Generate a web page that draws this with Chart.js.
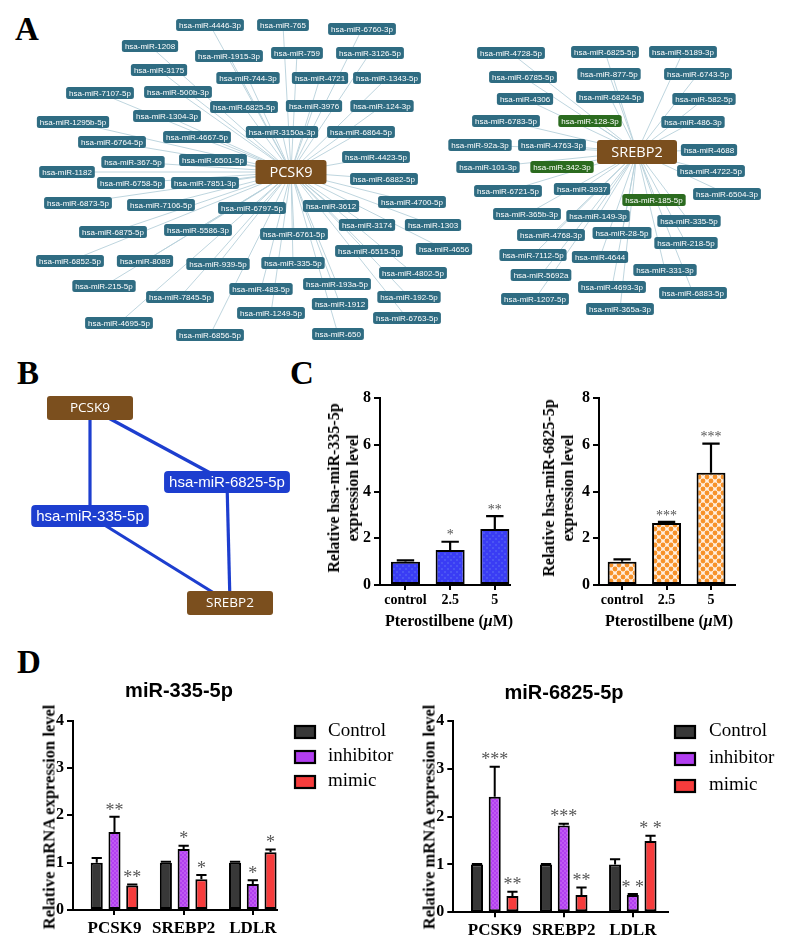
<!DOCTYPE html>
<html><head><meta charset="utf-8">
<script src="https://cdn.jsdelivr.net/npm/chart.js@4.4.0/dist/chart.umd.min.js"></script>
<style>
html,body{margin:0;padding:0;background:#fff;}
body{width:787px;height:949px;position:relative;overflow:hidden;}
canvas{position:absolute;}
.letter{position:absolute;font:bold 33px/33px "Liberation Serif";color:#000;}
.ctr{position:absolute;transform:translate(-50%,-50%);white-space:nowrap;color:#000;}
.rot{position:absolute;transform:translate(-50%,-50%) rotate(-90deg);white-space:nowrap;text-align:center;color:#000;font:bold 16px/19px "Liberation Serif";}
.xt{font:bold 16px/18px "Liberation Serif";}
.dt{font:bold 20px/22px "Liberation Sans";}
</style></head><body>

<div class="letter" style="left:15px;top:13px">A</div>
<div class="letter" style="left:17px;top:357px">B</div>
<div class="letter" style="left:290px;top:357px">C</div>
<div class="letter" style="left:17px;top:646px">D</div>

<canvas id="cA" width="787" height="345" style="left:0;top:0"></canvas>
<canvas id="cB" width="300" height="280" style="left:0;top:355px"></canvas>
<canvas id="cC1" width="220" height="240" style="left:300px;top:385px"></canvas>
<canvas id="cC2" width="226" height="240" style="left:519px;top:385px"></canvas>
<canvas id="cD1" width="410" height="249" style="left:0;top:700px"></canvas>
<canvas id="cD2" width="397" height="249" style="left:390px;top:700px"></canvas>

<div class="rot" style="left:343px;top:488px">Relative hsa-miR-335-5p<br>expression level</div>
<div class="rot" style="left:558px;top:488px">Relative hsa-miR-6825-5p<br>expression level</div>
<div class="ctr xt" style="left:449px;top:621px">Pterostilbene (<i>μ</i>M)</div>
<div class="ctr xt" style="left:669px;top:621px">Pterostilbene (<i>μ</i>M)</div>

<div class="ctr dt" style="left:179px;top:690px">miR-335-5p</div>
<div class="ctr dt" style="left:564px;top:692px">miR-6825-5p</div>
<div class="rot" style="left:49px;top:817px;font-size:16.5px">Relative mRNA expression level</div>
<div class="rot" style="left:429px;top:817px;font-size:16.5px">Relative mRNA expression level</div>

<script>
// ================= DATA =================
// Panel A: PCSK9 network
const leftHub = 'PCSK9';
const leftHubPos = [291, 172];
const leftNames = ['hsa-miR-4446-3p','hsa-miR-765','hsa-miR-6760-3p','hsa-miR-1208','hsa-miR-1915-3p','hsa-miR-759','hsa-miR-3126-5p','hsa-miR-3175','hsa-miR-744-3p','hsa-miR-4721','hsa-miR-1343-5p','hsa-miR-7107-5p','hsa-miR-500b-3p','hsa-miR-6825-5p','hsa-miR-3976','hsa-miR-124-3p','hsa-miR-1304-3p','hsa-miR-1295b-5p','hsa-miR-3150a-3p','hsa-miR-6864-5p','hsa-miR-4667-5p','hsa-miR-6764-5p','hsa-miR-4423-5p','hsa-miR-367-5p','hsa-miR-6501-5p','hsa-miR-1182','hsa-miR-6882-5p','hsa-miR-6758-5p','hsa-miR-7851-3p','hsa-miR-6873-5p','hsa-miR-7106-5p','hsa-miR-6797-5p','hsa-miR-4700-5p','hsa-miR-3612','hsa-miR-3174','hsa-miR-1303','hsa-miR-6875-5p','hsa-miR-5586-3p','hsa-miR-6761-5p','hsa-miR-6515-5p','hsa-miR-4656','hsa-miR-6852-5p','hsa-miR-8089','hsa-miR-939-5p','hsa-miR-335-5p','hsa-miR-4802-5p','hsa-miR-215-5p','hsa-miR-483-5p','hsa-miR-193a-5p','hsa-miR-7845-5p','hsa-miR-192-5p','hsa-miR-1912','hsa-miR-1249-5p','hsa-miR-6763-5p','hsa-miR-4695-5p','hsa-miR-6856-5p','hsa-miR-650'];
const leftX = [210,283,362,150,229,297,370,159,248,320,387,100,178,244,314,382,167,73,282,361,197,112,376,133,213,67,384,131,205,78,161,252,412,331,367,433,113,198,294,369,444,70,145,218,293,413,104,261,337,180,409,340,271,407,119,210,338];
const leftY = [25,25,29,46,56,53,53,70,78,78,78,93,92,107,106,106,116,122,132,132,137,142,157,162,160,172,179,183,183,203,205,208,202,206,225,225,232,230,234,251,249,261,261,264,263,273,286,289,284,297,297,304,313,318,323,335,334];

// Panel A: SREBP2 network
const rightHub = 'SREBP2';
const rightHubPos = [637, 152];
const rightNames = ['hsa-miR-4728-5p','hsa-miR-6825-5p','hsa-miR-5189-3p','hsa-miR-6785-5p','hsa-miR-877-5p','hsa-miR-6743-5p','hsa-miR-4306','hsa-miR-6824-5p','hsa-miR-582-5p','hsa-miR-6783-5p','hsa-miR-128-3p','hsa-miR-486-3p','hsa-miR-92a-3p','hsa-miR-4763-3p','hsa-miR-4688','hsa-miR-101-3p','hsa-miR-342-3p','hsa-miR-4722-5p','hsa-miR-6721-5p','hsa-miR-3937','hsa-miR-6504-3p','hsa-miR-185-5p','hsa-miR-365b-3p','hsa-miR-149-3p','hsa-miR-335-5p','hsa-miR-4768-3p','hsa-miR-28-5p','hsa-miR-218-5p','hsa-miR-7112-5p','hsa-miR-4644','hsa-miR-5692a','hsa-miR-331-3p','hsa-miR-4693-3p','hsa-miR-6883-5p','hsa-miR-1207-5p','hsa-miR-365a-3p'];
const rightX = [511,605,683,523,609,698,525,610,704,506,590,693,480,552,709,488,562,711,508,582,727,654,527,598,689,551,622,686,533,600,541,665,612,693,535,620];
const rightY = [53,52,52,77,74,74,99,97,99,121,121,122,145,145,150,167,167,171,191,189,194,200,214,216,221,235,233,243,255,257,275,270,287,293,299,309];
const greenNames = ['hsa-miR-128-3p','hsa-miR-342-3p','hsa-miR-185-5p'];

// Panel B: shared network
const bNames = ['PCSK9','SREBP2','hsa-miR-6825-5p','hsa-miR-335-5p'];
const bTypes = ['gene','gene','mir','mir'];
const bX = [90,230,227,90];
const bY = [408,603,482,516];
const bEdges = [['PCSK9','hsa-miR-335-5p'],['PCSK9','hsa-miR-6825-5p'],['hsa-miR-335-5p','SREBP2'],['hsa-miR-6825-5p','SREBP2']];

// Panel C
const doseLabels = ['control','2.5','5'];
const mir335Mean = [1.0, 1.5, 2.4];
const mir335Err  = [0.05, 0.35, 0.55];
const mir335Sig  = ['', '*', '**'];
const mir6825Mean = [1.0, 2.65, 4.8];
const mir6825Err  = [0.1, 0.05, 1.25];
const mir6825Sig  = ['', '***', '***'];
const cTicks = [0,2,4,6,8];

// Panel D
const genes = ['PCSK9','SREBP2','LDLR'];
const groupNames = ['Control','inhibitor','mimic'];
const d335Mean = {Control:[1.0,1.0,1.0], inhibitor:[1.65,1.29,0.55], mimic:[0.52,0.65,1.22]};
const d335Err  = {Control:[0.1,0.02,0.02], inhibitor:[0.32,0.07,0.08], mimic:[0.02,0.09,0.06]};
const d335Sig  = {Control:['','',''], inhibitor:['**','*','*'], mimic:['**','*','*']};
const d6825Mean = {Control:[1.0,1.0,1.0], inhibitor:[2.41,1.81,0.36], mimic:[0.34,0.36,1.49]};
const d6825Err  = {Control:[0.01,0.01,0.11], inhibitor:[0.63,0.04,0.02], mimic:[0.09,0.16,0.11]};
const d6825Sig  = {Control:['','',''], inhibitor:['***','***','* *'], mimic:['**','**','* *']};
const dTicks = [0,1,2,3,4];

// ================= STYLE HELPERS =================
const SERIF = '"Liberation Serif", "Times New Roman", serif';
const SANS = '"Liberation Sans", Arial, sans-serif';
const TEAL = '#2f6c82', GREEN = '#2b6b1f', BROWN = '#7b4f1e', EDGE = '#b7d0da';
const BBLUE = '#1d3ecf';
const groupColors = {Control:'#383838', inhibitor:'#b23ef0', mimic:'#f63c3c'};

function rr(ctx, x, y, w, h, r) {
  ctx.beginPath();
  ctx.moveTo(x + r, y); ctx.lineTo(x + w - r, y); ctx.quadraticCurveTo(x + w, y, x + w, y + r);
  ctx.lineTo(x + w, y + h - r); ctx.quadraticCurveTo(x + w, y + h, x + w - r, y + h);
  ctx.lineTo(x + r, y + h); ctx.quadraticCurveTo(x, y + h, x, y + h - r);
  ctx.lineTo(x, y + r); ctx.quadraticCurveTo(x, y, x + r, y); ctx.closePath();
}
function drawBox(ctx, cx, cy, text, o) {
  ctx.font = o.font;
  const tw = ctx.measureText(text).width;
  const w = o.w || (tw + 2 * o.pad);
  const h = o.h;
  rr(ctx, cx - w / 2, cy - h / 2, w, h, o.r);
  ctx.fillStyle = o.fill; ctx.fill();
  ctx.fillStyle = '#fff'; ctx.textAlign = 'center'; ctx.textBaseline = 'middle';
  ctx.fillText(text, cx, cy + (o.dy || 0));
}

function makePattern(kind) {
  const c = document.createElement('canvas');
  const g = c.getContext('2d');
  if (kind === 'blue') {
    c.width = 6; c.height = 6;
    g.fillStyle = '#3a3df4'; g.fillRect(0, 0, 6, 6);
    g.fillStyle = '#4b55f3';
    g.fillRect(0, 0, 2, 2); g.fillRect(3, 3, 2, 2);
  } else if (kind === 'orange') {
    c.width = 8; c.height = 8;
    g.fillStyle = '#fff0e2'; g.fillRect(0, 0, 8, 8);
    g.fillStyle = '#f7922a';
    [[0,0],[8,0],[0,8],[8,8],[4,4]].forEach(p => { g.beginPath(); g.arc(p[0], p[1], 2.4, 0, Math.PI * 2); g.fill(); });
  } else if (kind === 'purple') {
    c.width = 4; c.height = 4;
    g.fillStyle = '#b23ef0'; g.fillRect(0, 0, 4, 4);
    g.fillStyle = '#c05af2'; g.fillRect(0, 0, 2, 2); g.fillRect(2, 2, 2, 2);
  }
  return g.createPattern(c, 'repeat');
}

// ================= PLUGINS =================
const netPlugin = {
  id: 'net',
  beforeDatasetsDraw(chart) {
    const ctx = chart.ctx;
    ctx.save();
    ctx.strokeStyle = EDGE; ctx.lineWidth = 0.9;
    chart.data.datasets.forEach((ds, di) => {
      if (ds.hub === undefined) return;
      const hubEl = chart.getDatasetMeta(ds.hub).data[0];
      chart.getDatasetMeta(di).data.forEach(el => {
        ctx.beginPath(); ctx.moveTo(hubEl.x, hubEl.y); ctx.lineTo(el.x, el.y); ctx.stroke();
      });
    });
    ctx.restore();
  },
  afterDatasetsDraw(chart) {
    const ctx = chart.ctx;
    ctx.save();
    chart.data.datasets.forEach((ds, di) => {
      chart.getDatasetMeta(di).data.forEach((el, i) => {
        const name = ds.names[i];
        if (ds.role === 'hub') {
          drawBox(ctx, el.x, el.y, name, {font: '14.5px "Open Sans"', w: ds.boxW, h: 24, r: 3, fill: BROWN, dy: 0.5});
        } else {
          const fill = greenNames.includes(name) ? GREEN : TEAL;
          drawBox(ctx, el.x, el.y, name, {font: '8px ' + SANS, pad: 3, h: 12, r: 2.5, fill, dy: 0.5});
        }
      });
    });
    ctx.restore();
  }
};

const bPlugin = {
  id: 'bnet',
  beforeDatasetsDraw(chart) {
    const ctx = chart.ctx;
    const el = chart.getDatasetMeta(0).data;
    const names = chart.data.datasets[0].names;
    ctx.save(); ctx.strokeStyle = BBLUE; ctx.lineWidth = 3.2;
    bEdges.forEach(([a, b]) => {
      const p = el[names.indexOf(a)], q = el[names.indexOf(b)];
      ctx.beginPath(); ctx.moveTo(p.x, p.y); ctx.lineTo(q.x, q.y); ctx.stroke();
    });
    ctx.restore();
  },
  afterDatasetsDraw(chart) {
    const ctx = chart.ctx;
    const ds = chart.data.datasets[0];
    ctx.save();
    chart.getDatasetMeta(0).data.forEach((el, i) => {
      if (ds.types[i] === 'gene') drawBox(ctx, el.x, el.y, ds.names[i], {font: '13.5px "Open Sans"', w: 86, h: 24, r: 3, fill: BROWN, dy: 0.5});
      else drawBox(ctx, el.x, el.y, ds.names[i], {font: '15px ' + SANS, pad: 5, h: 22, r: 4, fill: BBLUE, dy: 0.5});
    });
    ctx.restore();
  }
};

const errPlugin = {
  id: 'errs',
  afterDatasetsDraw(chart, args, o) {
    const ctx = chart.ctx, ys = chart.scales.y;
    chart.data.datasets.forEach((ds, di) => {
      const meta = chart.getDatasetMeta(di);
      meta.data.forEach((el, i) => {
        const v = ds.data[i].y;
        const top = ys.getPixelForValue(v + ds.errs[i]);
        ctx.save();
        ctx.strokeStyle = '#000'; ctx.lineWidth = o.lw;
        const cw = el.width * o.cap / 2;
        ctx.beginPath();
        ctx.moveTo(el.x, el.y); ctx.lineTo(el.x, top);
        ctx.moveTo(el.x - cw, top); ctx.lineTo(el.x + cw, top);
        ctx.stroke();
        const s = ds.stars[i];
        if (s) {
          ctx.fillStyle = o.starColor; ctx.font = o.starFont;
          ctx.textAlign = 'center'; ctx.textBaseline = 'middle';
          ctx.fillText(s, el.x, top - o.starGap);
        }
        ctx.restore();
      });
    });
  }
};

const sideLegend = {
  id: 'sideLegend',
  afterDraw(chart, args, o) {
    const ctx = chart.ctx;
    ctx.save();
    chart.data.datasets.forEach((ds, i) => {
      const cy = o.y + i * o.gap;
      ctx.fillStyle = ds.legendColor;
      ctx.fillRect(o.x, cy - o.h / 2, o.w, o.h);
      ctx.strokeStyle = '#000'; ctx.lineWidth = 2.2;
      ctx.strokeRect(o.x, cy - o.h / 2, o.w, o.h);
      ctx.fillStyle = '#000'; ctx.font = o.font;
      ctx.textAlign = 'left'; ctx.textBaseline = 'middle';
      ctx.fillText(ds.label, o.tx, cy - 1);
    });
    ctx.restore();
  }
};

// ================= AXES =================
function yAxis(max, step, size, width) {
  return {
    type: 'linear', min: 0, max, bounds: 'data',
    afterBuildTicks(s) { s.ticks = (max === 8 ? cTicks : dTicks).map(v => ({value: v})); },
    ticks: {color: '#000', font: {family: SERIF, weight: 'bold', size}, padding: 3},
    grid: {display: true, drawOnChartArea: false, drawTicks: true, tickLength: 6, color: '#000', lineWidth: 2},
    border: {display: true, color: '#000', width: 2},
    afterFit(s) { s.width = width; }
  };
}
function xAxis(min, max, labels, size, height, pad) {
  return {
    type: 'linear', min, max, offset: false, bounds: 'data',
    afterBuildTicks(s) { s.ticks = labels.map((_, i) => ({value: i})); },
    ticks: {callback: v => labels[v], autoSkip: false, maxRotation: 0, color: '#000', font: {family: SERIF, weight: 'bold', size}, padding: pad},
    grid: {display: true, drawOnChartArea: false, drawTicks: true, tickLength: 5, color: '#000', lineWidth: 2, offset: false},
    border: {display: true, color: '#000', width: 2},
    afterFit(s) { s.height = height; }
  };
}
const baseOpts = {responsive: false, animation: false, events: [], devicePixelRatio: 1};

// ================= PANEL A =================
new Chart(document.getElementById('cA'), {
  type: 'scatter',
  data: {datasets: [
    {label: leftHub, role: 'hub', boxW: 71, names: [leftHub], data: [{x: leftHubPos[0], y: leftHubPos[1]}]},
    {label: 'PCSK9 miRNAs', hub: 0, names: leftNames, data: leftNames.map((n, i) => ({x: leftX[i], y: leftY[i]}))},
    {label: rightHub, role: 'hub', boxW: 80, names: [rightHub], data: [{x: rightHubPos[0], y: rightHubPos[1]}]},
    {label: 'SREBP2 miRNAs', hub: 2, names: rightNames, data: rightNames.map((n, i) => ({x: rightX[i], y: rightY[i]}))}
  ]},
  options: Object.assign({}, baseOpts, {
    layout: {padding: 0},
    elements: {point: {radius: 0, hoverRadius: 0}},
    scales: {x: {type: 'linear', display: false, min: 0, max: 787}, y: {type: 'linear', display: false, min: 0, max: 345, reverse: true}},
    plugins: {legend: {display: false}, tooltip: {enabled: false}}
  }),
  plugins: [netPlugin]
});

// ================= PANEL B =================
new Chart(document.getElementById('cB'), {
  type: 'scatter',
  data: {datasets: [{label: 'shared', names: bNames, types: bTypes, data: bNames.map((n, i) => ({x: bX[i], y: bY[i]}))}]},
  options: Object.assign({}, baseOpts, {
    layout: {padding: 0},
    elements: {point: {radius: 0, hoverRadius: 0}},
    scales: {x: {type: 'linear', display: false, min: 0, max: 300}, y: {type: 'linear', display: false, min: 355, max: 635, reverse: true}},
    plugins: {legend: {display: false}, tooltip: {enabled: false}}
  }),
  plugins: [bPlugin]
});

// ================= PANEL C =================
function cChart(id, mean, err, sig, fill, xmin, xmax) {
  new Chart(document.getElementById(id), {
    type: 'bar',
    data: {datasets: [{
      label: 'expression', data: mean.map((v, i) => ({x: i, y: v})), errs: err, stars: sig,
      backgroundColor: fill, borderColor: '#000', borderWidth: 2, borderSkipped: false,
      barPercentage: 0.65, categoryPercentage: 1
    }]},
    options: Object.assign({}, baseOpts, {
      layout: {padding: {top: 13, right: 10, left: 0, bottom: 0}},
      scales: {x: xAxis(xmin, xmax, doseLabels, 14, 40, 2), y: yAxis(8, 2, 16, 80)},
      plugins: {legend: {display: false}, tooltip: {enabled: false},
        errs: {lw: 2.2, cap: 0.6, starFont: '14px ' + SERIF, starColor: '#555', starGap: 6}}
    }),
    plugins: [errPlugin]
  });
}
cChart('cC1', mir335Mean, mir335Err, mir335Sig, makePattern('blue'), -0.57, 2.34);
cChart('cC2', mir6825Mean, mir6825Err, mir6825Sig, makePattern('orange'), -0.52, 2.54);

// ================= PANEL D =================
function dChart(id, mean, err, sig, pad, yW, xH, xmin, xmax, leg) {
  const fills = {Control: groupColors.Control, inhibitor: makePattern('purple'), mimic: groupColors.mimic};
  new Chart(document.getElementById(id), {
    type: 'bar',
    data: {datasets: groupNames.map(g => ({
      label: g, data: mean[g].map((v, i) => ({x: i, y: v})), errs: err[g], stars: sig[g],
      backgroundColor: fills[g], legendColor: groupColors[g], borderColor: '#000', borderWidth: 2, borderSkipped: false,
      barPercentage: 0.68, categoryPercentage: 0.77
    }))},
    options: Object.assign({}, baseOpts, {
      layout: {padding: pad},
      scales: {x: xAxis(xmin, xmax, genes, 17, xH, 3), y: yAxis(4, 1, 16, yW)},
      plugins: {legend: {display: false}, tooltip: {enabled: false},
        errs: {lw: 2, cap: 0.85, starFont: '18px ' + SERIF, starColor: '#555', starGap: 6},
        sideLegend: leg}
    }),
    plugins: [errPlugin, sideLegend]
  });
}
dChart('cD1', d335Mean, d335Err, d335Sig, {top: 20.7, right: 133, left: 0, bottom: 0}, 73, 39, -0.6, 2.35,
  {x: 295, tx: 328, y: 32, gap: 25, w: 20, h: 12, font: '19px ' + SERIF});
dChart('cD2', d6825Mean, d6825Err, d6825Sig, {top: 20.7, right: 119, left: 0, bottom: 0}, 63.3, 36.7, -0.6, 2.51,
  {x: 285, tx: 319, y: 32, gap: 27, w: 20, h: 12, font: '19px ' + SERIF});
</script>
</body></html>
